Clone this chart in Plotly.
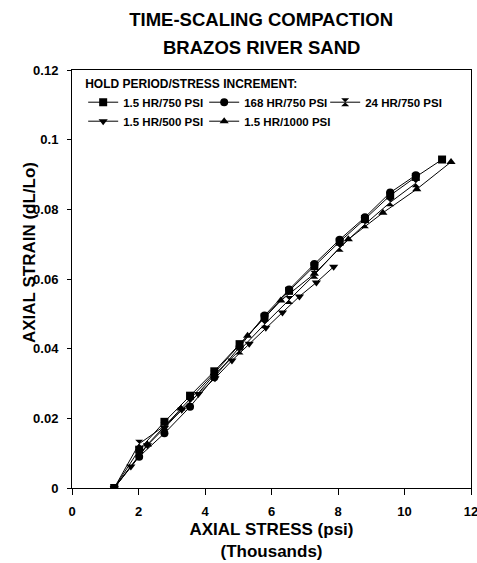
import plotly.graph_objects as go

names = ["1.5 HR/750 PSI", "168 HR/750 PSI", "24 HR/750 PSI", "1.5 HR/500 PSI", "1.5 HR/1000 PSI"]
symbols = ["square", "circle", "hourglass", "triangle-down", "triangle-up"]

x1 = [1.27, 2.02, 2.78, 3.55, 4.28, 5.04, 5.79, 6.53, 7.29, 8.05, 8.81, 9.57, 10.34, 11.13]
y1 = [0, 0.0110, 0.0190, 0.0265, 0.0335, 0.0413, 0.0490, 0.0566, 0.0637, 0.0707, 0.0772, 0.0840, 0.0893, 0.0943]

x2 = [1.27, 2.02, 2.78, 3.55, 4.28, 5.04, 5.79, 6.53, 7.29, 8.05, 8.81, 9.57, 10.34]
y2 = [0, 0.0090, 0.0157, 0.0233, 0.0318, 0.0405, 0.0495, 0.0570, 0.0643, 0.0713, 0.0777, 0.0848, 0.0898]

x3 = [1.27, 2.02, 2.78, 3.55, 4.28, 5.04, 5.79, 6.53, 7.29, 8.05, 8.81, 9.57, 10.34]
y3 = [0, 0.0127, 0.0178, 0.0245, 0.0325, 0.0395, 0.0470, 0.0540, 0.0612, 0.0690, 0.0757, 0.0820, 0.0875]

x4 = [1.27, 1.77, 2.27, 2.78, 3.30, 3.80, 4.30, 4.81, 5.33, 5.83, 6.33, 6.84, 7.35, 7.87]
y4 = [0, 0.0062, 0.0123, 0.0172, 0.0225, 0.0270, 0.0315, 0.0366, 0.0414, 0.0460, 0.0504, 0.0550, 0.0590, 0.0635]

x5 = [1.27, 2.27, 3.28, 4.28, 5.28, 6.28, 7.29, 8.31, 9.35, 10.37, 11.40]
y5 = [0, 0.0125, 0.0228, 0.0330, 0.0437, 0.0538, 0.0615, 0.0714, 0.0790, 0.0858, 0.0936]

xs = [x1, x2, x3, x4, x5]
ys = [y1, y2, y3, y4, y5]

FONT = "Arial, 'Liberation Sans', sans-serif"
W, H = 477, 563

fig = go.Figure()
for x, y, n, s in zip(xs, ys, names, symbols):
    fig.add_trace(go.Scatter(
        x=x, y=y, name=n, mode="lines+markers",
        line=dict(color="black", width=1),
        marker=dict(symbol=s, size=8, color="black", line=dict(width=0)),
    ))

fig.update_layout(
    width=W, height=H,
    margin=dict(l=72, r=6, t=70, b=75, autoexpand=False),
    paper_bgcolor="white", plot_bgcolor="white",
    font=dict(family=FONT, color="black"),
    title=dict(
        text="<b>TIME-SCALING COMPACTION</b>",
        x=0.474, xref="paper", xanchor="center",
        y=1 - 20 / H, yref="container", yanchor="middle",
        font=dict(size=18.5, family=FONT, color="black"),
    ),
    annotations=[
        dict(text="<b>BRAZOS RIVER SAND</b>", xref="paper", yref="paper",
             x=0.474, y=1 + (70 - 47) / 418, xanchor="center", yanchor="middle",
             showarrow=False, font=dict(size=18.5, family=FONT, color="black")),
        dict(text="<b>AXIAL STRAIN (dL/Lo)</b>", xref="paper", yref="paper",
             x=-(72 - 29) / 399, y=(488 - 253) / 418, xanchor="center", yanchor="middle",
             textangle=-90, showarrow=False,
             font=dict(size=17, family=FONT, color="black")),
    ],
    showlegend=True,
    legend=dict(
        orientation="h",
        x=0.028, y=0.995, xanchor="left", yanchor="top",
        bgcolor="rgba(0,0,0,0)",
        font=dict(size=11.5, family=FONT, color="black", weight="bold"),
        title=dict(text="<b>HOLD PERIOD/STRESS INCREMENT:</b>", side="top",
                   font=dict(size=12, family=FONT, color="black")),
        entrywidth=76, itemwidth=30,
        tracegroupgap=0,
    ),
    xaxis=dict(
        range=[0, 12], dtick=2, tick0=0, automargin=False,
        showline=True, linecolor="black", linewidth=1, mirror=True,
        ticks="outside", ticklen=6, tickcolor="black", ticklabelstandoff=5,
        showgrid=False, zeroline=False, ticklabeloverflow="allow",
        tickfont=dict(size=13, family=FONT, color="black", weight="bold"),
        title=dict(text="<b>AXIAL STRESS (psi)<br>(Thousands)</b>",
                   font=dict(size=17, family=FONT, color="black"), standoff=5),
    ),
    yaxis=dict(
        range=[0, 0.12], dtick=0.02, tick0=0, automargin=False,
        showline=True, linecolor="black", linewidth=1, mirror=True,
        ticks="outside", ticklen=4, tickcolor="black", ticklabelstandoff=6,
        showgrid=False, zeroline=False,
        tickfont=dict(size=13, family=FONT, color="black", weight="bold"),
    ),
    xaxis2=dict(
        range=[0, 12], dtick=2, tick0=0, overlaying="x", anchor="y", side="bottom",
        ticks="inside", ticklen=6, tickcolor="black", showticklabels=False,
        showline=False, showgrid=False, zeroline=False, automargin=False,
    ),
    yaxis2=dict(
        range=[0, 0.12], dtick=0.02, tick0=0, overlaying="y", anchor="x", side="left",
        ticks="inside", ticklen=4, tickcolor="black", showticklabels=False,
        showline=False, showgrid=False, zeroline=False, automargin=False,
    ),
)

fig.write_html("out.html", config={"displayModeBar": False},
               post_script="document.body.style.margin='0';")
